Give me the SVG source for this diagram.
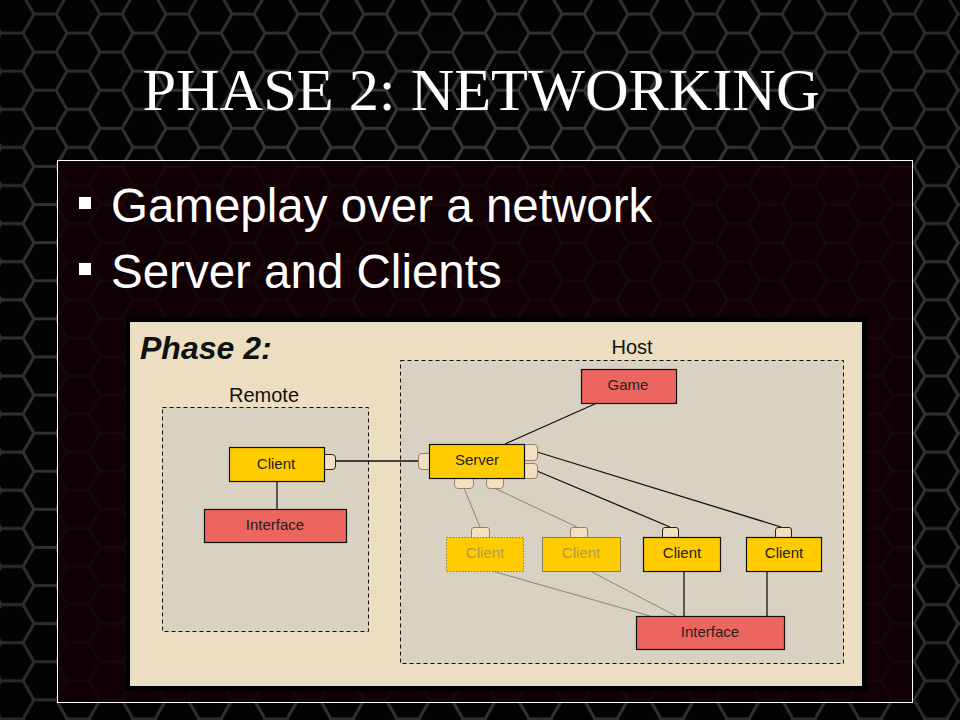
<svg xmlns="http://www.w3.org/2000/svg" width="960" height="720" viewBox="0 0 960 720">
  <defs>
    <pattern id="hex" width="66" height="38.1" patternUnits="userSpaceOnUse" x="-10" y="-5">
      <path d="M0,19.05 L11,0 L33,0 L44,19.05 L33,38.1 L11,38.1 Z M44,19.05 L66,19.05" fill="none" stroke="#4a4a4a" stroke-width="3"/>
    </pattern>
    <radialGradient id="vign" cx="50%" cy="50%" r="70%">
      <stop offset="0" stop-color="#000" stop-opacity="0.1"/>
      <stop offset="1" stop-color="#000" stop-opacity="0.45"/>
    </radialGradient>
  </defs>
  <style>
    .lbl { font-family: "Liberation Sans", Arial, sans-serif; fill: #111; text-anchor: middle; }
    .node { font-family: "Liberation Sans", Arial, sans-serif; font-size: 15px; text-anchor: middle; fill: #222; }
    .faded { fill: #b09a55; }
    .yel { fill: #ffcc00; stroke: #111; stroke-width: 1.2; }
    .yelf { fill: #ffcc00; stroke: #8a7a55; stroke-width: 1; }
    .red { fill: #ec665f; stroke: #111; stroke-width: 1.2; }
    .port { fill: #f3e0c0; stroke: #222; stroke-width: 1; }
    .portf { fill: #f3e0c0; stroke: #8f8270; stroke-width: 1; }
    .region { fill: #d9d2c3; stroke: #111; stroke-width: 1; stroke-dasharray: 4 3; }
    .wire { stroke: #111; stroke-width: 1.3; fill: none; }
    .wiref { stroke: #8a857c; stroke-width: 1; fill: none; }
    .bullet { font-family: "Liberation Sans", Arial, sans-serif; font-size: 47.5px; fill: #fff; }
  </style>

  <!-- background -->
  <rect x="0" y="0" width="960" height="720" fill="#050505"/>
  <rect x="0" y="0" width="960" height="720" fill="url(#hex)"/>
  <rect x="0" y="0" width="960" height="720" fill="url(#vign)"/>

  <!-- title -->
  <text x="481" y="110" font-family="'Liberation Serif', 'Times New Roman', serif" font-size="60" fill="#fff" text-anchor="middle" textLength="677" lengthAdjust="spacingAndGlyphs">PHASE 2: NETWORKING</text>

  <!-- content panel -->
  <rect x="57.5" y="160.5" width="855" height="542" fill="#130004" fill-opacity="0.88" stroke="#fff" stroke-width="1"/>

  <!-- bullets -->
  <rect x="79" y="197" width="12" height="12" fill="#fff"/>
  <text class="bullet" x="111" y="222">Gameplay over a network</text>
  <rect x="79" y="263" width="12" height="12" fill="#fff"/>
  <text class="bullet" x="111" y="288">Server and Clients</text>

  <!-- parchment -->
  <rect x="126" y="317" width="741" height="374" fill="#000"/>
  <rect x="130" y="322" width="732" height="364" fill="#ebdec1"/>
  <text x="140" y="359" font-family="'Liberation Sans', Arial, sans-serif" font-size="32" font-weight="bold" font-style="italic" fill="#111">Phase 2:</text>

  <!-- regions -->
  <g id="remote">
    <text class="lbl" x="264" y="402" font-size="20">Remote</text>
    <rect class="region" x="162.5" y="407.5" width="206" height="224"/>
  </g>
  <g id="host">
    <text class="lbl" x="632" y="354" font-size="20">Host</text>
    <rect class="region" x="400.5" y="360.5" width="443" height="303"/>
  </g>

  <!-- connectors -->
  <g id="connectors">
    <line class="wire" x1="335" y1="461" x2="419" y2="461"/>
    <line class="wire" x1="277" y1="481" x2="277" y2="510"/>
    <line class="wire" x1="597" y1="403" x2="505" y2="444"/>
    <line class="wire" x1="537" y1="452" x2="781" y2="527"/>
    <line class="wire" x1="537" y1="471" x2="670" y2="527"/>
    <line class="wiref" x1="464" y1="488" x2="480" y2="527"/>
    <line class="wiref" x1="494" y1="488" x2="577" y2="527"/>
    <line class="wire" x1="684" y1="571" x2="684" y2="616"/>
    <line class="wire" x1="767" y1="571" x2="767" y2="616"/>
    <line class="wiref" x1="492" y1="571" x2="650" y2="616"/>
    <line class="wiref" x1="590" y1="571" x2="676" y2="616"/>
  </g>

  <!-- remote nodes -->
  <g id="remote-client">
    <path class="port" d="M324,454.5 H332 Q335.5,454.5 335.5,458 V466 Q335.5,469.5 332,469.5 H324 Z"/>
    <rect class="yel" x="229.5" y="447.5" width="95" height="34"/>
    <text class="node" x="276" y="469">Client</text>
  </g>
  <g id="remote-interface">
    <rect class="red" x="204.5" y="509.5" width="142" height="33"/>
    <text class="node" x="275" y="530">Interface</text>
  </g>

  <!-- host nodes -->
  <g id="game">
    <rect class="red" x="581.5" y="369.5" width="95" height="34"/>
    <text class="node" x="628" y="390">Game</text>
  </g>
  <g id="server">
    <path class="portf" d="M429.5,453.5 H422 Q418.5,453.5 418.5,457 V466 Q418.5,469.5 422,469.5 H429.5 Z"/>
    <path class="portf" d="M524,444.5 H534 Q537.5,444.5 537.5,448 V457 Q537.5,460.5 534,460.5 H524 Z"/>
    <path class="portf" d="M524,463.5 H534 Q537.5,463.5 537.5,467 V475 Q537.5,478.5 534,478.5 H524 Z"/>
    <path class="portf" d="M454.5,478 V485 Q454.5,488.5 458,488.5 H470 Q473.5,488.5 473.5,485 V478"/>
    <path class="portf" d="M486.5,478 V485 Q486.5,488.5 490,488.5 H500 Q503.5,488.5 503.5,485 V478"/>
    <rect class="yel" x="429.5" y="444.5" width="95" height="34"/>
    <text class="node" x="477" y="465">Server</text>
  </g>
  <g id="client1">
    <path class="portf" d="M471.5,537 V530 Q471.5,527.5 474,527.5 H487 Q489.5,527.5 489.5,530 V537"/>
    <rect class="yelf" x="446.5" y="537.5" width="77" height="34" stroke="#6a5a30" stroke-dasharray="1.5 1.5"/>
    <text class="node faded" x="485" y="558">Client</text>
  </g>
  <g id="client2">
    <path class="portf" d="M570.5,537 V530 Q570.5,527.5 573,527.5 H585 Q587.5,527.5 587.5,530 V537"/>
    <rect class="yelf" x="542.5" y="537.5" width="78" height="34"/>
    <text class="node faded" x="581" y="558">Client</text>
  </g>
  <g id="client3">
    <path class="port" d="M662.5,537 V530 Q662.5,527.5 665,527.5 H676 Q678.5,527.5 678.5,530 V537"/>
    <rect class="yel" x="643.5" y="537.5" width="77" height="34"/>
    <text class="node" x="682" y="558">Client</text>
  </g>
  <g id="client4">
    <path class="port" d="M775.5,537 V530 Q775.5,527.5 778,527.5 H789 Q791.5,527.5 791.5,530 V537"/>
    <rect class="yel" x="746.5" y="537.5" width="75" height="34"/>
    <text class="node" x="784" y="558">Client</text>
  </g>
  <g id="host-interface">
    <rect class="red" x="636.5" y="616.5" width="148" height="33"/>
    <text class="node" x="710" y="637">Interface</text>
  </g>
</svg>
